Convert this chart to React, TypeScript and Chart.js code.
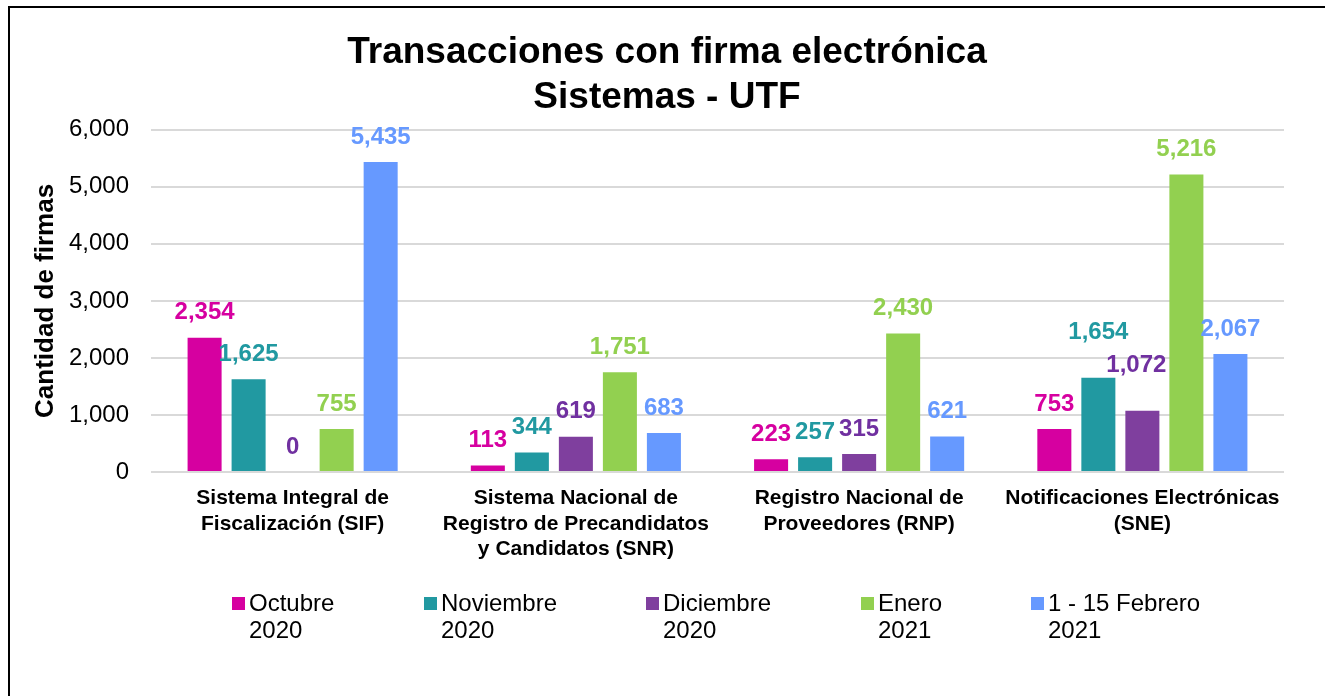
import React, { useEffect, useRef } from "react";
import { Chart, registerables } from "chart.js";

Chart.register(...registerables);

const categories: string[][] = [
  ["Sistema Integral de", "Fiscalización (SIF)"],
  ["Sistema Nacional de", "Registro de Precandidatos", "y Candidatos (SNR)"],
  ["Registro Nacional de", "Proveedores (RNP)"],
  ["Notificaciones Electrónicas", "(SNE)"],
];

const seriesNames: string[][] = [
  ["Octubre", "2020"],
  ["Noviembre", "2020"],
  ["Diciembre", "2020"],
  ["Enero", "2021"],
  ["1 - 15 Febrero", "2021"],
];

const octubre2020 = [2354, 113, 223, 753];
const noviembre2020 = [1625, 344, 257, 1654];
const diciembre2020 = [0, 619, 315, 1072];
const enero2021 = [755, 1751, 2430, 5216];
const febrero2021 = [5435, 683, 621, 2067];

const yTickMin = 0;
const yTickMax = 6000;
const yTickStep = 1000;

const titleLines = ["Transacciones con firma electrónica", "Sistemas - UTF"];
const yAxisTitle = "Cantidad de firmas";

const barColors = ["#D600A0", "#2199A1", "#7F3F9E", "#92D050", "#6699FF"];
const labelColors = ["#D600A0", "#2199A1", "#7030A0", "#92D050", "#6699FF"];

const FONT = '"Liberation Sans", Arial, Helvetica, sans-serif';

// manual nudges of a few data labels (dataset index, data index) -> [dx, dy]
const labelNudges: Record<string, [number, number]> = {
  "1-3": [0, -20],
  "2-3": [-6, -20],
};

const fmt = (v: number) => v.toLocaleString("en-US");

const dataLabelPlugin = {
  id: "dataLabels",
  afterDatasetsDraw(chart: any) {
    const ctx = chart.ctx;
    ctx.save();
    ctx.font = `bold 24px ${FONT}`;
    ctx.textAlign = "center";
    ctx.textBaseline = "middle";
    chart.data.datasets.forEach((ds: any, di: number) => {
      const meta = chart.getDatasetMeta(di);
      meta.data.forEach((el: any, i: number) => {
        const nudge = labelNudges[`${di}-${i}`] || [0, 0];
        ctx.fillStyle = labelColors[di];
        ctx.fillText(fmt(ds.data[i]), el.x + nudge[0], el.y - 25 + nudge[1]);
      });
    });
    ctx.restore();
  },
};

const legendXs = [232, 424, 646, 861, 1031];

const customLegendPlugin = {
  id: "customLegend",
  afterDraw(chart: any) {
    const ctx = chart.ctx;
    ctx.save();
    ctx.font = `24px ${FONT}`;
    ctx.textAlign = "left";
    ctx.textBaseline = "middle";
    chart.data.datasets.forEach((ds: any, di: number) => {
      const x = legendXs[di];
      ctx.fillStyle = barColors[di];
      ctx.fillRect(x, 597, 13, 13);
      ctx.fillStyle = "#000";
      const lines: string[] = ds.label;
      lines.forEach((ln, li) => {
        ctx.fillText(ln, x + 17, 604 + li * 27);
      });
    });
    ctx.restore();
  },
};

export default function App() {
  const ref = useRef<HTMLCanvasElement | null>(null);

  useEffect(() => {
    if (!ref.current) return;
    const seriesData = [octubre2020, noviembre2020, diciembre2020, enero2021, febrero2021];
    const chart = new Chart(ref.current, {
      type: "bar",
      data: {
        labels: categories,
        datasets: seriesData.map((d, i) => ({
          label: seriesNames[i] as any,
          data: d,
          backgroundColor: barColors[i],
          borderWidth: 0,
          barPercentage: 0.773,
          categoryPercentage: 0.777,
        })),
      },
      options: {
        animation: false,
        responsive: false,
        devicePixelRatio: 1,
        layout: { padding: { left: 50, right: 41, top: 0, bottom: 0 } },
        plugins: {
          legend: { display: false },
          tooltip: { enabled: false },
          title: {
            display: true,
            text: titleLines,
            color: "#000",
            font: { family: FONT, size: 37, weight: "bold", lineHeight: 1.2 },
            padding: { top: 31, bottom: 10 },
          },
        },
        scales: {
          x: {
            grid: { display: false },
            border: { display: false },
            ticks: {
              color: "#000",
              font: { family: FONT, size: 21, weight: "bold", lineHeight: 1.2 },
              padding: 6,
              maxRotation: 0,
              autoSkip: false,
            },
            afterFit: (s: any) => {
              s.height = 224;
            },
          },
          y: {
            min: yTickMin,
            max: yTickMax,
            ticks: {
              stepSize: yTickStep,
              color: "#000",
              font: { family: FONT, size: 24 },
              padding: 22,
              callback: (v: any) => fmt(Number(v)),
            },
            grid: { color: "#D9D9D9", lineWidth: 2, drawTicks: false },
            border: { display: false },
            title: {
              display: true,
              text: yAxisTitle,
              color: "#000",
              font: { family: FONT, size: 26, weight: "bold", lineHeight: 1.2 },
              padding: { top: -20, bottom: 0 },
            },
            afterFit: (s: any) => {
              s.width = 101;
            },
          },
        },
      },
      plugins: [dataLabelPlugin, customLegendPlugin],
    });
    return () => chart.destroy();
  }, []);

  return (
    <div>
      <canvas
        ref={ref}
        width={1325}
        height={696}
        style={{ position: "fixed", left: 0, top: 0, width: 1325, height: 696, display: "block", background: "#fff" }}
      />
      <div
        style={{
          position: "fixed",
          left: 8,
          top: 6,
          width: 1400,
          height: 800,
          border: "2px solid #000",
          pointerEvents: "none",
        }}
      />
    </div>
  );
}
